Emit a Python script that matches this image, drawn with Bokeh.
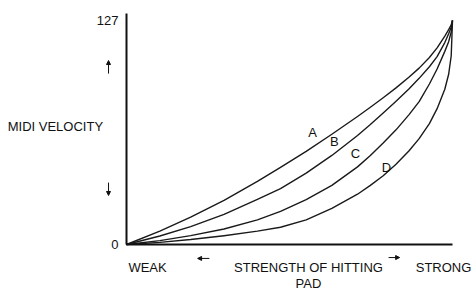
from bokeh.plotting import figure
from bokeh.models import Range1d, FixedTicker, Label, ColumnDataSource, LinearAxis, Arrow, NormalHead
from bokeh.core.properties import value
from bokeh.embed import file_html
from bokeh.resources import INLINE

# Strength of hitting pad (0..127) and the MIDI velocity of each curve
strength = [0, 13, 25, 38, 51, 60, 70, 80, 90, 95, 100, 105, 110, 114, 118, 121, 124, 125.5, 126.5, 127]
curve_a = [0, 7.6, 15.5, 25, 35.8, 43.7, 52.8, 62.5, 72.6, 77.8, 83.2, 88.8, 94.8, 100, 106, 111.5, 118.2, 121.8, 124.5, 127]
curve_b = [0, 4.8, 10.1, 17.1, 25.6, 31.7, 40.5, 50.5, 61.8, 68, 74.5, 81.2, 88.2, 94.2, 100.8, 106.5, 114.5, 119.5, 123.2, 127]
curve_c = [0, 2.2, 5.0, 8.8, 14.0, 18.8, 25.5, 33.5, 44, 50.5, 57.5, 65, 73.5, 81, 91, 99.5, 109.5, 115, 120.5, 127]
curve_d = [0, 1.2, 2.8, 5.0, 7.6, 9.8, 14, 20.5, 28.5, 33.5, 39, 45.5, 53, 60, 68.5, 77, 88, 96.5, 107, 127]

curve_names = ["A", "B", "C", "D"]
name_x = [72.5, 81.0, 89.2, 101.3]
name_y = [63.5, 58.4, 51.6, 43.7]

y_ticks = [0, 127]
y_tick_labels = {0: "0", 127: "127"}

FONT = "Liberation Sans"
INK = "#111111"

p = figure(width=473, height=290, output_backend="svg", toolbar_location=None,
           x_range=Range1d(-49.08, 135.18), y_range=Range1d(-26.08, 138.34),
           x_axis_type=None, y_axis_type=None,
           min_border=0, min_border_left=0, min_border_right=0,
           min_border_top=0, min_border_bottom=0)
p.outline_line_color = None
p.grid.visible = False
p.background_fill_color = "white"
p.border_fill_color = "white"

xaxis = LinearAxis(fixed_location=0, bounds=(0, 127), ticker=FixedTicker(ticks=[]),
                   major_label_text_font_size="0px")
yaxis = LinearAxis(fixed_location=0, bounds=(0, 131), ticker=FixedTicker(ticks=y_ticks),
                   major_label_overrides=y_tick_labels)
for ax in (xaxis, yaxis):
    ax.axis_line_width = 2
    ax.axis_line_color = INK
    ax.major_tick_line_color = None
    ax.minor_tick_line_color = None
    ax.major_tick_out = 0
    ax.major_tick_in = 0
yaxis.major_label_text_font = FONT
yaxis.major_label_text_font_size = "13px"
yaxis.major_label_text_color = INK
yaxis.major_label_standoff = 8
p.add_layout(xaxis, "below")
p.add_layout(yaxis, "left")

for ys in (curve_a, curve_b, curve_c, curve_d):
    p.line(strength, ys, line_color="#1a1a1a", line_width=1.4, line_join="round")

src = ColumnDataSource(dict(x=name_x, y=name_y, t=curve_names))
p.text(x="x", y="y", text="t", source=src, text_font=value(FONT), text_font_size="13px",
       text_color=INK, text_align="center", text_baseline="middle")

def lab(x, y, t, size="13px", font=FONT):
    p.add_layout(Label(x=x, y=y, text=t, text_font=font, text_font_size=size,
                       text_color=INK, text_align="center", text_baseline="middle"))

def arrow(x0, y0, x1, y1):
    p.add_layout(Arrow(x_start=x0, y_start=y0, x_end=x1, y_end=y1,
                       line_color=INK, line_width=1,
                       end=NormalHead(size=4, fill_color=INK, line_color=INK, line_width=1)))

lab(-27.7, 66.9, "MIDI VELOCITY")
arrow(-7.0, 96.9, -7.0, 104.3)
arrow(-7.0, 35.1, -7.0, 27.8)
lab(8.2, -13.0, "WEAK")
arrow(32.3, -7.9, 27.7, -7.9)
lab(70.9, -13.0, "STRENGTH OF HITTING")
lab(70.9, -22.2, "PAD")
arrow(102.1, -7.4, 106.4, -7.4)
lab(123.5, -13.0, "STRONG")

open("out.html", "w").write(file_html(p, INLINE))
